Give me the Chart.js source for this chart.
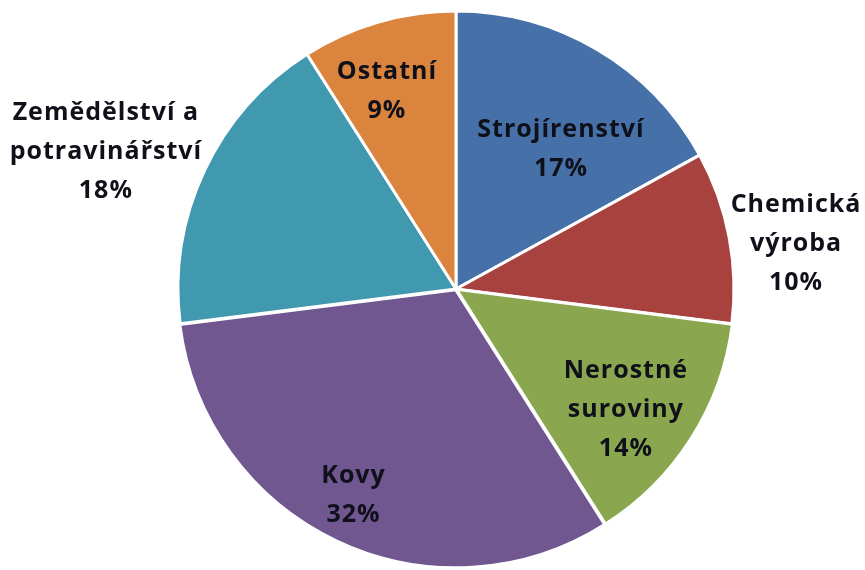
<!DOCTYPE html>
<html>
<head>
<meta charset="utf-8">
<script src="https://cdn.jsdelivr.net/npm/chart.js@4.4.0/dist/chart.umd.min.js"></script>
<style>
    html, body { margin: 0; padding: 0; background: #ffffff; }
    #wrap { width: 865px; height: 570px; }
</style>
</head>
<body>
<div id="wrap"><canvas id="pie-chart"></canvas></div>
<script>
// Podíl odvětví (v %)
const categories = ['Strojírenství', 'Chemická výroba', 'Nerostné suroviny', 'Kovy', 'Zemědělství a potravinářství', 'Ostatní'];
const shares = [17, 10, 14, 32, 18, 9];
// jak jsou popisky zalomené do řádků
const labelLines = [
    ['Strojírenství'],
    ['Chemická', 'výroba'],
    ['Nerostné', 'suroviny'],
    ['Kovy'],
    ['Zemědělství a', 'potravinářství'],
    ['Ostatní']
];

const colors = ['#4571a8', '#a8423f', '#8aa64f', '#70578f', '#4199b0', '#da843e'];
// umístění popisku: vzdálenost od středu (násobek poloměru) a posun úhlu ve stupních
const labelRadius = [0.635, 1.235, 0.747, 0.823, 1.355, 0.759];
const labelTurn = [5.9, 2.85, 2.7, 1.4, -3.55, -2.9];

const labelPlugin = {
    id: 'sliceLabels',
    afterDatasetsDraw(chart) {
        const ctx = chart.ctx;
        const meta = chart.getDatasetMeta(0);
        const total = shares.reduce((a, b) => a + b, 0);
        ctx.save();
        ctx.font = 'bold 25px "Open Sans", Lato, sans-serif';
        ctx.letterSpacing = '1px';
        ctx.fillStyle = '#10101a';
        ctx.textAlign = 'center';
        ctx.textBaseline = 'alphabetic';
        const lineHeight = 39;
        const capHeight = ctx.measureText('H').actualBoundingBoxAscent;
        meta.data.forEach((arc, i) => {
            const p = arc.getProps(['x', 'y', 'startAngle', 'endAngle', 'outerRadius']);
            const mid = (p.startAngle + p.endAngle) / 2 + labelTurn[i] * Math.PI / 180;
            const r = p.outerRadius * labelRadius[i];
            const cx = p.x + Math.cos(mid) * r;
            const cy = p.y + Math.sin(mid) * r;
            const lines = labelLines[i].concat([Math.round(shares[i] / total * 100) + '%']);
            const firstBase = cy - (lines.length - 1) * lineHeight / 2 + capHeight / 2;
            lines.forEach((txt, j) => {
                ctx.fillText(txt, cx, firstBase + j * lineHeight);
            });
        });
        ctx.restore();
    }
};

new Chart(document.getElementById('pie-chart'), {
    type: 'pie',
    data: {
        labels: categories,
        datasets: [{
            data: shares,
            backgroundColor: colors,
            borderColor: '#ffffff',
            borderWidth: 3,
            offset: [0, 0, 2, 3, 0, 0]
        }]
    },
    options: {
        responsive: true,
        maintainAspectRatio: false,
        animation: false,
        layout: { padding: { top: 8, bottom: 0, left: 47, right: 0 } },
        plugins: {
            legend: { display: false },
            tooltip: { enabled: false }
        }
    },
    plugins: [labelPlugin]
});
</script>
</body>
</html>
